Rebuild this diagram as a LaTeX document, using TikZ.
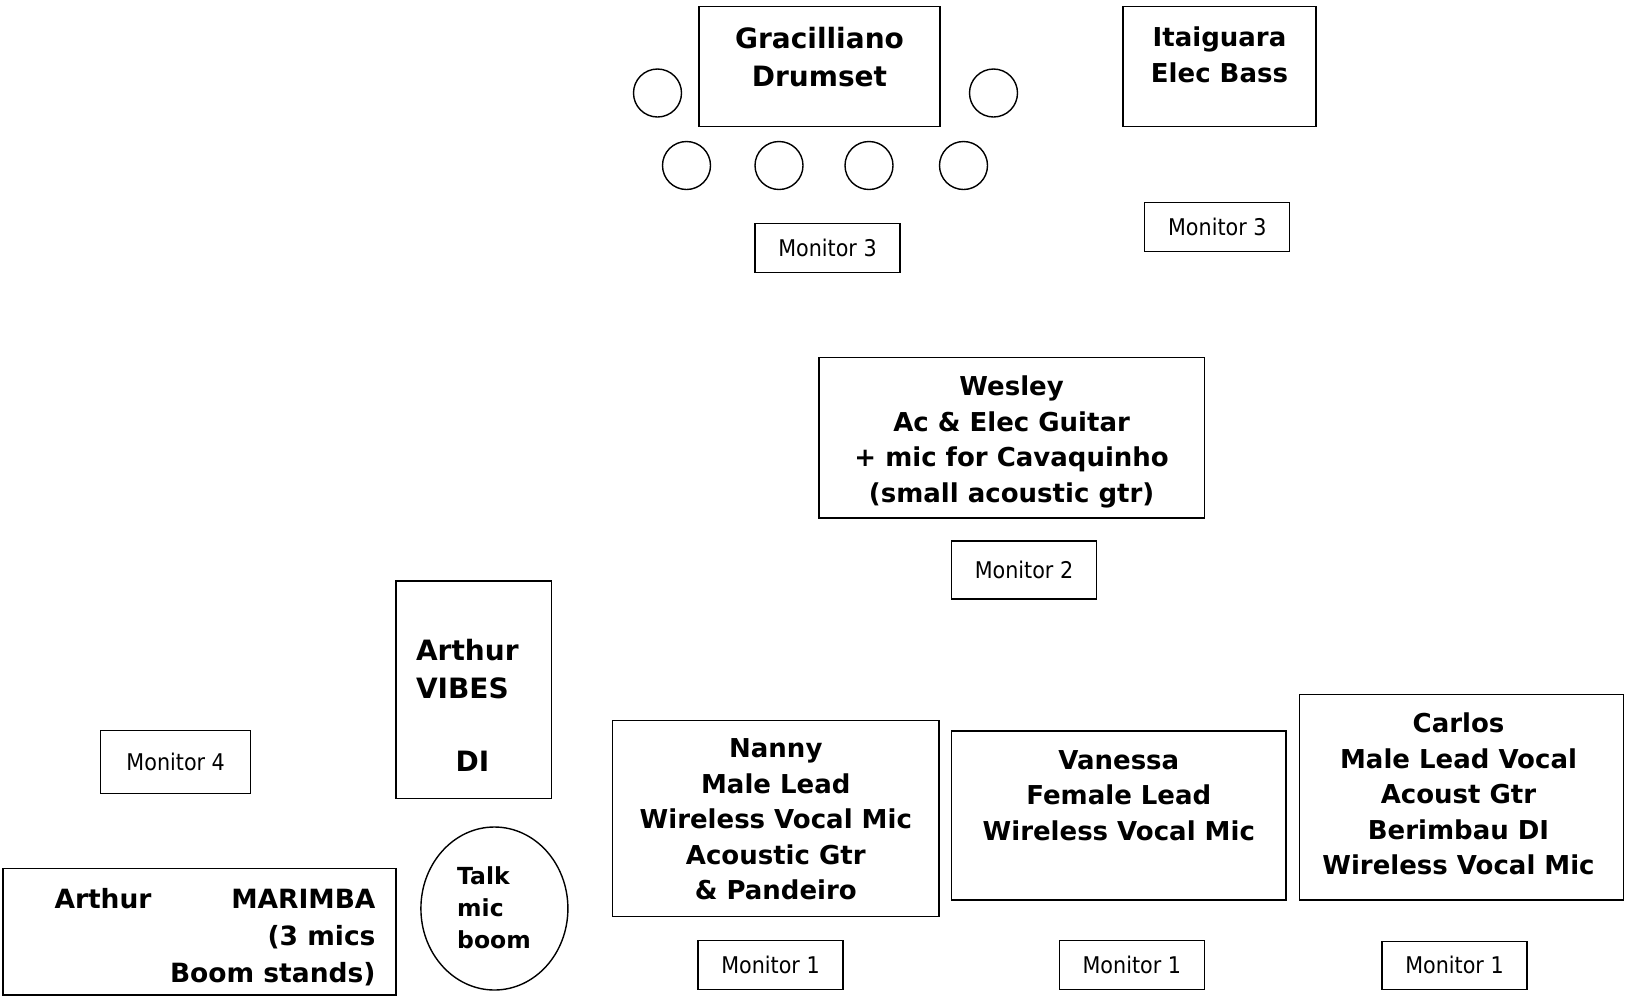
\documentclass[tikz,border=0pt]{standalone}
\usepackage{fontspec}
\setmainfont{DejaVu Sans}
\newfontfamily\monfont[FakeStretch=0.9]{DejaVu Sans}
\usetikzlibrary{shapes.geometric}

\tikzset{
  stagebox/.style={draw=black, line width=1.6pt, inner sep=0pt},
  who/.style={inner sep=0pt, anchor=north, align=center,
    font=\bfseries\fontsize{26}{35.5}\selectfont},
  monitor/.style={draw=black, line width=1.1pt, inner sep=0pt,
    minimum width=145pt, minimum height=48pt,
    font=\monfont\fontsize{23}{27}\selectfont},
  drum/.style={shape=circle, draw=black, line width=1.4pt,
    minimum size=48pt, inner sep=0pt},
}

\begin{document}
\begin{tikzpicture}[x=1pt, y=-1pt]
\useasboundingbox (0,0) rectangle (1625,997);

% drums and bass
\node[stagebox, minimum width=241pt, minimum height=120pt] (drumbox) at (819.5,66.5) {};
\node[who, font=\bfseries\fontsize{28}{38.3}\selectfont] (drumtxt) at ([yshift=-21pt]drumbox.north) {Gracilliano\\Drumset};
\node[drum] (d1) at (657.5,93) {};
\node[drum] (d2) at (993.5,93) {};
\node[drum] (d3) at (686.5,165.5) {};
\node[drum] (d4) at (779,165.5) {};
\node[drum] (d5) at (869,165.5) {};
\node[drum] (d6) at (963.5,165.5) {};
\node[monitor, minimum height=48.5pt] (mondrum) at (827.5,247.8) {Monitor 3};

\node[stagebox, minimum width=193pt, minimum height=120pt] (bassbox) at (1219.5,66.5) {};
\node[who] (basstxt) at ([yshift=-21pt]bassbox.north) {Itaiguara\\Elec Bass};
\node[monitor, minimum height=49pt] (monbass) at (1217.3,227.2) {Monitor 3};

% guitar
\node[stagebox, minimum width=385.5pt, minimum height=160.6pt] (wesleybox) at (1011.6,437.9) {};
\node[who] (wesleytxt) at ([yshift=-19pt]wesleybox.north) {Wesley\\Ac \& Elec Guitar\\+ mic for Cavaquinho\\(small acoustic gtr)};
\node[monitor, minimum height=58pt] (monwesley) at (1024,570) {Monitor 2};

% Arthur
\node[stagebox, minimum width=155.5pt, minimum height=217.5pt] (vibesbox) at (473.7,689.8) {};
\node[who, anchor=north west, align=left, font=\bfseries\fontsize{28}{38.3}\selectfont] (vibestxt) at ([xshift=20.7pt, yshift=-58.8pt]vibesbox.north west) {Arthur\\VIBES\\[34pt]\hspace*{39.5pt}DI};
\node[monitor, minimum width=150pt, minimum height=63pt] (monarthur) at (175.7,762.3) {Monitor 4};
\node[stagebox, minimum width=392.8pt, minimum height=126.5pt] (marimbabox) at (199.5,931.8) {};
\node[who, anchor=north east, align=right, font=\bfseries\fontsize{26.5}{36.8}\selectfont] (marimbatxt) at ([xshift=-21pt, yshift=-20.5pt]marimbabox.north east) {\hbox to 321pt{Arthur\hfill MARIMBA}\\(3 mics\\Boom stands)};
\node[shape=ellipse, draw=black, line width=1.4pt, minimum width=147pt, minimum height=163pt, inner sep=0pt] (talk) at (494.4,908.5) {};
\node[who, anchor=north west, align=left, font=\bfseries\fontsize{23.5}{32}\selectfont] (talktxt) at ([xshift=-37.4pt, yshift=42pt]talk.center) {Talk\\mic\\boom};

% front line
\node[stagebox, minimum width=326.5pt, minimum height=196pt] (nannybox) at (775.8,818.3) {};
\node[who] (nannytxt) at ([yshift=-19pt]nannybox.north) {Nanny\\Male Lead\\Wireless Vocal Mic\\Acoustic Gtr\\\& Pandeiro};
\node[monitor, minimum height=49pt] (monnanny) at (770.5,965.4) {Monitor 1};

\node[stagebox, minimum width=334.8pt, minimum height=169pt] (vanessabox) at (1118.8,815.2) {};
\node[who] (vanessatxt) at ([yshift=-20pt]vanessabox.north) {Vanessa\\Female Lead\\Wireless Vocal Mic};
\node[monitor, minimum height=49pt] (monvanessa) at (1131.8,965.4) {Monitor 1};

\node[stagebox, minimum width=324pt, minimum height=205.5pt] (carlosbox) at (1461.5,797.3) {};
\node[who] (carlostxt) at ([xshift=-3pt, yshift=-19pt]carlosbox.north) {Carlos\\Male Lead Vocal\\Acoust Gtr\\Berimbau DI\\Wireless Vocal Mic};
\node[monitor, minimum height=48.5pt] (moncarlos) at (1454.5,965.4) {Monitor 1};
\end{tikzpicture}
\end{document}
